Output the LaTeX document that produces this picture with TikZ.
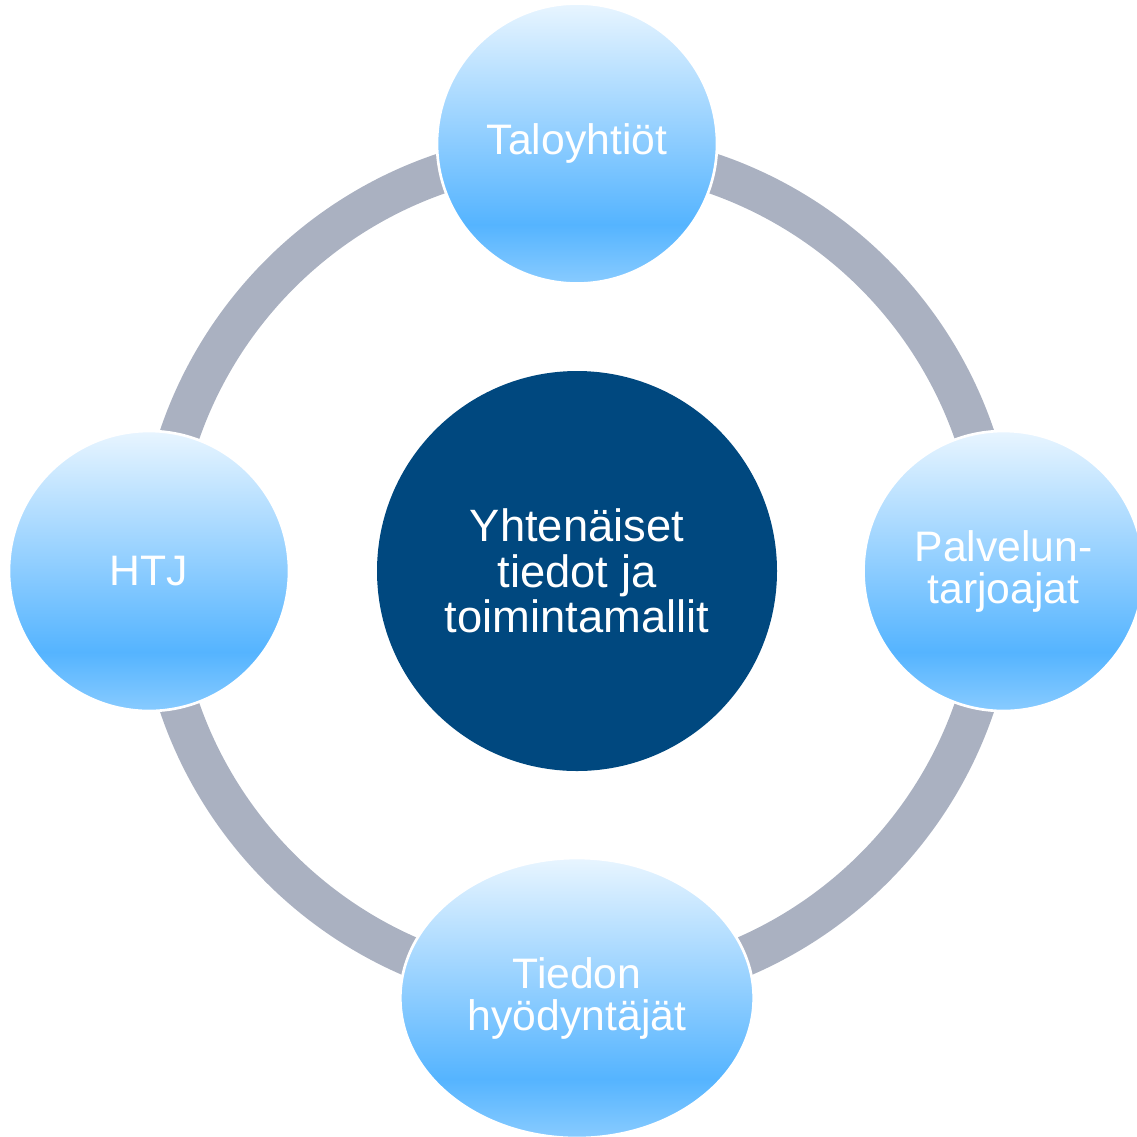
\documentclass[tikz,border=0pt]{standalone}
\usepackage{fontspec}
\setmainfont{Liberation Sans}
\usetikzlibrary{shapes.geometric}
\definecolor{ringgray}{HTML}{AAB1C1}
\definecolor{core}{HTML}{00487F}
\definecolor{btop}{HTML}{E8F5FF}
\definecolor{bmid}{HTML}{55B4FF}
\definecolor{bbot}{HTML}{88CBFF}
\pgfdeclareverticalshading{bubble}{100bp}{color(0bp)=(bbot); color(25bp)=(bbot); color(35.5bp)=(bmid); color(75bp)=(btop); color(100bp)=(btop)}
\begin{document}
\begin{tikzpicture}[x=0.75pt,y=-0.75pt,
  bubblebox/.style={circle, minimum size=210pt, inner sep=0pt, shading=bubble,
    draw=white, line width=2pt, text=white, align=center,
    font=\fontsize{32}{31.5}\selectfont},
  corebox/.style={circle, minimum size=300pt, inner sep=0pt, fill=core,
    text=white, align=center, font=\fontsize{34}{34}\selectfont},
  ringband/.style={draw=ringgray, line width=30pt}]
\useasboundingbox (0,0) rectangle (1137,1136);
\node[corebox] (core) at (577,571) {Yhtenäiset\\tiedot ja\\toimintamallit};
\draw[ringband] (core.center) circle[radius=315pt];
\node[bubblebox] (top) at (577,143.5) {Taloyhtiöt};
\node[bubblebox] (left) at (149,571) {HTJ};
\node[bubblebox] (right) at (1003.5,571) {Palvelun-\\tarjoajat};
\node[bubblebox, ellipse, minimum width=265pt, minimum height=210pt] (bottom) at (577,998) {Tiedon\\hyödyntäjät};
\end{tikzpicture}
\end{document}
